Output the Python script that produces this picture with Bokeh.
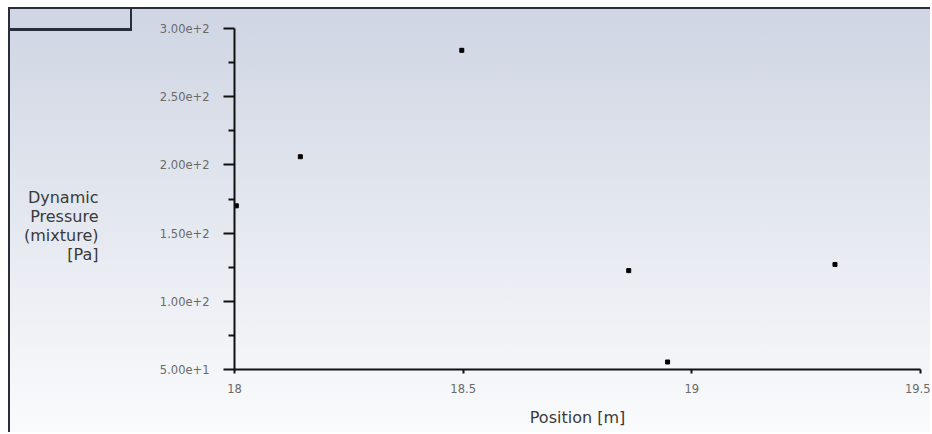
from bokeh.plotting import figure
from bokeh.models import FixedTicker, PrintfTickFormatter, LinearAxis
from bokeh.embed import file_html
from bokeh.resources import INLINE

# data
position = [18.004, 18.144, 18.497, 18.862, 18.947, 19.313]
dyn_pressure = [170.0, 206.0, 284.0, 122.5, 55.5, 127.0]
y_ticks = [50, 100, 150, 200, 250, 300]
y_minor = [75, 125, 175, 225, 275]
x_ticks = [18, 18.5, 19, 19.5]
y_label_lines = ["Dynamic", "Pressure", "(mixture)", "[Pa]"]
x_label = "Position [m]"

FONT = "DejaVu Sans"
W, H = 922, 425
p = figure(width=W, height=H, output_backend="svg", toolbar_location=None,
           x_range=(18, 19.5), y_range=(50, 300),
           min_border_left=224, min_border_right=12, min_border_top=19, min_border_bottom=65)
p.styles = {"background": ("linear-gradient(#2a2e3a,#2a2e3a) 120px 0/2px 22px no-repeat, "
                           "linear-gradient(#2a2e3a,#2a2e3a) 0 19px/122px 3px no-repeat, "
                           "linear-gradient(#cfd5e3, #fafbfc)"),
            "margin-left": "8px", "margin-top": "7px",
            "border-left": "2px solid #2a2e3a", "border-top": "2px solid #2a2e3a"}
p.background_fill_color = None
p.border_fill_color = None
p.outline_line_color = None
p.grid.visible = False

p.scatter(position, dyn_pressure, marker="square", size=4, color="black")

ya = p.yaxis[0]
ya.ticker = FixedTicker(ticks=y_ticks, minor_ticks=y_minor)
ya.formatter = PrintfTickFormatter(format="%.2e")
ya.major_tick_out = 11
ya.major_tick_in = 0
ya.minor_tick_out = 6
ya.minor_tick_in = 0
ya.major_label_standoff = 14
ya.major_label_text_font_size = "11.5px"
ya.major_label_text_color = "#6a6a6a"
ya.major_label_text_font = FONT
ya.axis_line_color = "#111111"
ya.axis_line_width = 2
ya.major_tick_line_width = 2
ya.minor_tick_line_width = 2
ya.major_tick_line_color = "#111111"
ya.minor_tick_line_color = "#111111"

# multi-line horizontal y-axis title, drawn as the labels of an extra outer axis
frame_top_px, frame_h_px = 28, 341
row_px = [197, 216, 235, 254]
row_y = [300 - (r - frame_top_px) / frame_h_px * 250 for r in row_px]
ta = LinearAxis(ticker=FixedTicker(ticks=row_y),
                major_label_overrides={v: t for v, t in zip(row_y, y_label_lines)},
                axis_line_color=None, major_tick_line_color=None, minor_tick_line_color=None,
                major_tick_out=0, major_tick_in=0, minor_tick_out=0,
                major_label_standoff=58, major_label_text_font=FONT,
                major_label_text_font_size="16px", major_label_text_color="#3a3a3a")
p.add_layout(ta, "left")

xa = p.xaxis[0]
xa.ticker = FixedTicker(ticks=x_ticks)
xa.major_tick_out = 4
xa.major_tick_in = 0
xa.minor_tick_out = 0
xa.major_label_standoff = 10
xa.major_label_text_font_size = "11.5px"
xa.major_label_text_color = "#6a6a6a"
xa.major_label_text_font = FONT
xa.axis_line_color = "#111111"
xa.axis_line_width = 2
xa.major_tick_line_width = 2
xa.major_tick_line_color = "#111111"
xa.axis_label = x_label
xa.axis_label_text_font = FONT
xa.axis_label_text_font_style = "normal"
xa.axis_label_text_font_size = "16px"
xa.axis_label_text_color = "#3a3a3a"
xa.axis_label_standoff = 12

open("out.html", "w").write(file_html(p, INLINE))
